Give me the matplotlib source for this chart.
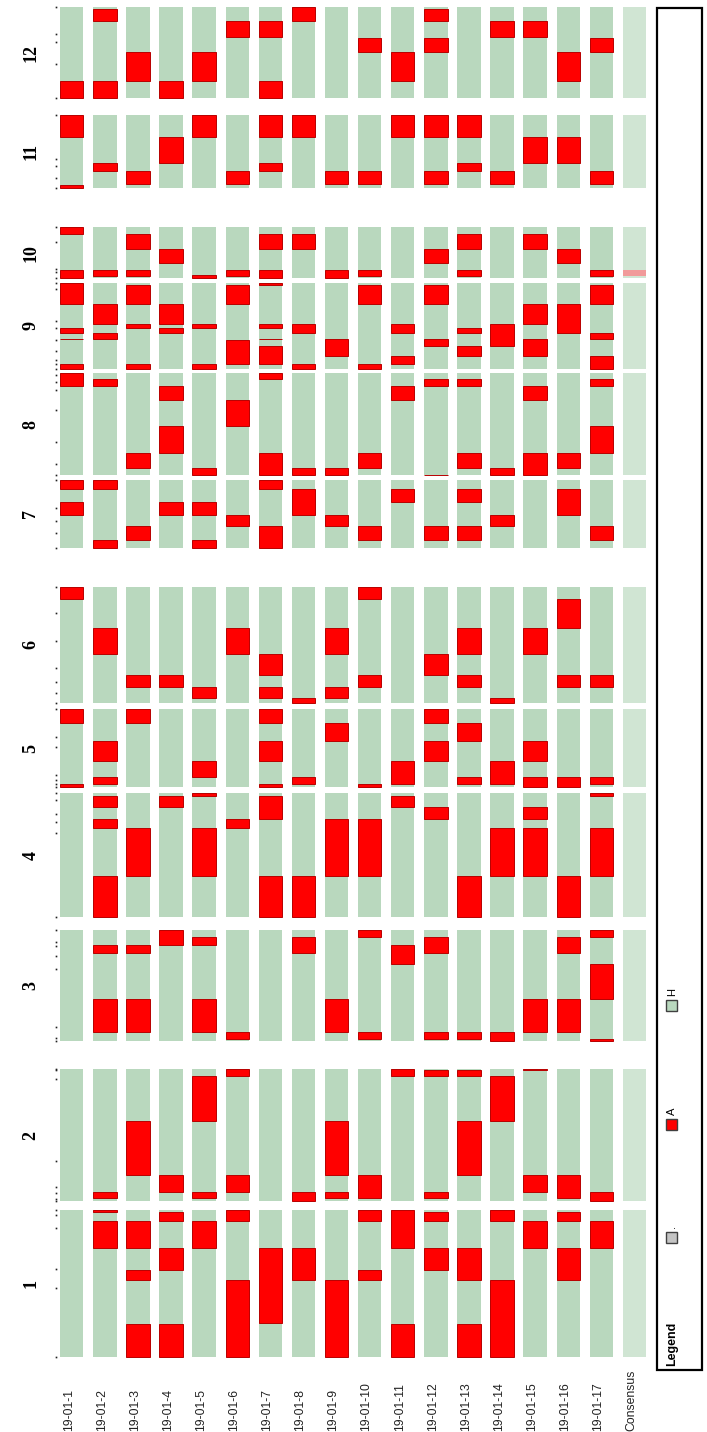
import matplotlib.pyplot as plt
from matplotlib.patches import Rectangle

samples = ['19-01-%d' % i for i in range(1, 18)] + ['Consensus']
chroms = [1, 2, 3, 4, 5, 6, 7, 8, 9, 10, 11, 12]
chrom_len = [147, 132, 111, 124, 78, 116, 68, 102, 86, 51, 73, 91]

# A (red) segments: (sample number, start, end), start measured from the chromosome start
chr1_A = [(2, 109, 135.6), (2, 144.6, 147), (3, 0, 33.3), (3, 77.3, 87.3), (3, 109, 135.6),
          (4, 0, 33.3), (4, 87.3, 109), (4, 135.6, 144.6), (5, 109, 135.6), (6, 0, 77.3),
          (6, 135.6, 147), (7, 34, 109), (8, 77.3, 109), (9, 0, 77.3), (10, 77.3, 87.3),
          (10, 135.6, 147), (11, 0, 33.3), (11, 109, 147), (12, 87.3, 109), (12, 135.6, 144.6),
          (13, 0, 33.3), (13, 77.3, 109), (14, 0, 77.3), (14, 135.6, 147), (15, 109, 135.6),
          (16, 77.3, 109), (16, 135.6, 144.6), (17, 109, 135.6)]
chr2_A = [(2, 3.3, 9.3), (3, 26, 80.3), (4, 9.3, 26), (5, 3.3, 9.3), (5, 80.3, 125.3),
          (6, 9.3, 26), (6, 125.3, 132), (8, 0, 9.3), (9, 3.3, 9.3), (9, 26, 80.3),
          (10, 3.3, 26), (11, 125.3, 132), (12, 3.3, 9.3), (12, 125.3, 131), (13, 26, 80.3),
          (13, 125.3, 131), (14, 80.3, 125.3), (15, 9.3, 26), (15, 131, 132), (16, 3.3, 26),
          (17, 0, 9.3)]
chr3_A = [(2, 9, 42.4), (2, 88.4, 96.4), (3, 9, 42.4), (3, 88.4, 96.4), (4, 96.4, 111),
          (5, 9, 42.4), (5, 96.4, 104), (6, 1.7, 9), (8, 88.4, 104), (9, 9, 42.4),
          (10, 1.7, 9), (10, 104, 111), (11, 77.4, 96.4), (12, 1.7, 9), (12, 88.4, 104),
          (13, 1.7, 9), (14, 0, 9), (15, 9, 42.4), (16, 9, 42.4), (16, 88.4, 104),
          (17, 0, 2), (17, 42.4, 77.4), (17, 104, 111)]
chr4_A = [(2, 0, 41), (2, 89.4, 98.4), (2, 110, 121), (3, 41, 89.4), (4, 110, 121),
          (5, 41, 89.4), (5, 121, 124), (6, 89.4, 98.4), (7, 0, 41), (7, 98.4, 121),
          (8, 0, 41), (9, 41, 98.4), (10, 41, 98.4), (11, 110, 121), (12, 98.4, 110),
          (13, 0, 41), (14, 41, 89.4), (15, 41, 89.4), (15, 98.4, 110), (16, 0, 41),
          (17, 41, 89.4), (17, 121, 124)]
chr5_A = [(1, 0, 3.4), (1, 64.4, 78), (2, 3.4, 10.4), (2, 26.7, 46), (3, 64.4, 78),
          (5, 10.4, 26.7), (7, 0, 3.4), (7, 26.7, 46), (7, 64.4, 78), (8, 3.4, 10.4),
          (9, 46, 64.4), (10, 0, 3.4), (11, 3.4, 26.7), (12, 26.7, 46), (12, 64.4, 78),
          (13, 3.4, 10.4), (13, 46, 64.4), (14, 3.4, 26.7), (15, 0, 10.4), (15, 26.7, 46),
          (16, 0, 10.4), (17, 3.4, 10.4)]
chr6_A = [(1, 103.4, 116), (2, 48.4, 75), (3, 15.4, 27.7), (4, 15.4, 27.7), (5, 4.4, 15.4),
          (6, 48.4, 75), (7, 4.4, 15.4), (7, 27.7, 48.4), (8, 0, 4.4), (9, 4.4, 15.4),
          (9, 48.4, 75), (10, 15.4, 27.7), (10, 103.4, 116), (12, 27.7, 48.4),
          (13, 15.4, 27.7), (13, 48.4, 75), (14, 0, 4.4), (15, 48.4, 75), (16, 15.4, 27.7),
          (16, 75, 103.4), (17, 15.4, 27.7)]
chr7_A = [(1, 33.3, 45.7), (1, 59, 68), (2, 0, 8.3), (2, 59, 68), (3, 7.7, 21.7),
          (4, 33.3, 45.7), (5, 0, 8.3), (5, 33.3, 45.7), (6, 21.7, 33.3), (7, 0, 21.7),
          (7, 59, 68), (8, 33.3, 59), (9, 21.7, 33.3), (10, 7.7, 21.7), (11, 45.7, 59),
          (12, 7.7, 21.7), (13, 7.7, 21.7), (13, 45.7, 59), (14, 21.7, 33.3), (16, 33.3, 59),
          (17, 7.7, 21.7)]
chr8_A = [(1, 89, 102), (2, 89, 96.7), (3, 7.7, 22.7), (4, 22.7, 49.3), (4, 75.7, 89),
          (5, 0, 7.7), (6, 49.3, 75.7), (7, 0, 22.7), (7, 96.7, 102), (8, 0, 7.7),
          (9, 0, 7.7), (10, 7.7, 22.7), (11, 75.7, 89), (12, 0, 0.8), (12, 89, 96.7),
          (13, 7.7, 22.7), (13, 89, 96.7), (14, 0, 7.7), (15, 0, 22.7), (15, 75.7, 89),
          (16, 7.7, 22.7), (17, 22.7, 49.3), (17, 89, 96.7)]
chr9_A = [(1, 0, 4.7), (1, 29.4, 30.2), (1, 35.7, 40.7), (1, 65, 85.7), (2, 29.7, 35.7),
          (2, 44.7, 64.7), (3, 0, 4.7), (3, 40.7, 44.7), (3, 65, 84), (4, 35.7, 40.7),
          (4, 44.7, 64.7), (5, 0, 4.7), (5, 40.7, 44.7), (6, 4.7, 29), (6, 65, 84),
          (7, 4.7, 22.3), (7, 29.4, 30.2), (7, 40.7, 44.7), (7, 84, 85.7), (8, 0, 4.7),
          (8, 35.7, 44.7), (9, 13, 29.7), (10, 0, 4.7), (10, 65, 84), (11, 4.7, 13),
          (11, 35.7, 44.7), (12, 22.3, 29.7), (12, 65, 84), (13, 13, 22.3), (13, 35.7, 40.7),
          (14, 22.3, 44.7), (15, 13, 29.7), (15, 44.7, 64.7), (16, 35.7, 64.7), (17, 0, 13),
          (17, 29.7, 35.7), (17, 65, 84)]
chr10_A = [(1, 0, 8.3), (1, 44.3, 51), (2, 2.6, 8.3), (3, 2.6, 8.3), (3, 29.3, 44.3),
           (4, 15, 29.3), (5, 0, 3.3), (6, 2.6, 8.3), (7, 0, 8.3), (7, 29.3, 44.3),
           (8, 29.3, 44.3), (9, 0, 8.3), (10, 2.6, 8.3), (12, 15, 29.3), (13, 2.6, 8.3),
           (13, 29.3, 44.3), (15, 29.3, 44.3), (16, 15, 29.3), (17, 2.6, 8.3)]
chr11_A = [(1, 0, 3.5), (1, 51, 73), (2, 16.7, 25.4), (3, 4.4, 16.7), (4, 25.4, 51),
           (5, 51, 73), (6, 4.4, 16.7), (7, 16.7, 25.4), (7, 51, 73), (8, 51, 73),
           (9, 4.4, 16.7), (10, 4.4, 16.7), (11, 51, 73), (12, 4.4, 16.7), (12, 51, 73),
           (13, 16.7, 25.4), (13, 51, 73), (14, 4.4, 16.7), (15, 25.4, 51), (16, 25.4, 51),
           (17, 4.4, 16.7)]
chr12_A = [(1, 0, 17), (2, 0, 17), (2, 77, 89), (3, 17, 46), (4, 0, 17), (5, 17, 46),
           (6, 61, 77), (7, 0, 17), (7, 61, 77), (8, 77, 91), (10, 46, 60), (11, 17, 46),
           (12, 46, 60), (12, 77, 89), (14, 61, 77), (15, 61, 77), (16, 17, 46), (17, 46, 60)]
segments_A = [chr1_A, chr2_A, chr3_A, chr4_A, chr5_A, chr6_A,
              chr7_A, chr8_A, chr9_A, chr10_A, chr11_A, chr12_A]

# marker positions shown as small ticks left of each chromosome
markers = [[0, 69, 88, 129, 141.6, 147], [0, 2, 7.7, 13.7, 40, 122, 131, 132],
           [0, 3, 14, 72.4, 84.7, 95, 99, 111], [0, 84.4, 95.4, 103.7, 117, 124.4],
           [0, 3.4, 7, 12.7, 40, 50, 78.4], [0, 9.4, 20.4, 35, 61.7, 89.4, 116],
           [0, 15, 26.6, 40, 68], [0, 11, 33.3, 65.7, 85, 93.3, 100],
           [0, 4.7, 9, 17.3, 29, 40.7, 48, 80, 85.7], [0, 6, 9.3, 36.6, 51],
           [0, 10, 22, 29.4, 72.7], [0, 34, 56.6, 64, 91]]

# consensus mixed region (chromosome, start, end)
consensus_mixed = [(10, 2.6, 8.3)]

legend_labels = ['.', 'A', 'H']

# layout (pixels of the 707x1432 canvas)
col_left = 60.0
col_pitch = 33.1
col_width = 23.4
first_top = 7.3
gap_above = {11: 16.7, 10: 39.3, 9: 4.4, 8: 4.6, 7: 4.7, 6: 38.7,
             5: 6.6, 4: 6.0, 3: 12.7, 2: 28.0, 1: 9.0}

green = '#b9d8be'
green_cons = '#d0e5d3'
red = '#ff0000'
red_edge = '#b80000'

fig = plt.figure(figsize=(7.07, 14.32), dpi=100)
ax = fig.add_axes([0, 0, 1, 1])
ax.set_xlim(0, 707)
ax.set_ylim(1432, 0)
ax.axis('off')

# vertical placement of chromosomes, 12 on top
tops = {}
cursor = first_top
for c in reversed(chroms):
    if c in gap_above:
        cursor += gap_above[c]
    tops[c] = cursor
    cursor += chrom_len[c - 1]

for c in chroms:
    L = chrom_len[c - 1]
    top = tops[c]
    bottom = top + L
    for i in range(len(samples)):
        x = col_left + i * col_pitch
        col = green_cons if samples[i] == 'Consensus' else green
        ax.bar(x, L, bottom=top, width=col_width, align='edge', color=col, linewidth=0)
    for s, a, b in segments_A[c - 1]:
        x = col_left + (s - 1) * col_pitch
        ax.bar(x, b - a, bottom=bottom - b, width=col_width, align='edge',
               color=red, edgecolor=red_edge, linewidth=0.7)
    for cc, a, b in consensus_mixed:
        if cc == c:
            x = col_left + (len(samples) - 1) * col_pitch
            ax.bar(x, b - a, bottom=bottom - b, width=col_width, align='edge',
                   color='#f19a9a', linewidth=0)
    m = markers[c - 1]
    ax.plot([col_left - 4] * len(m), [bottom - p for p in m], 's', color='#202020',
            markersize=1.2, markeredgewidth=0)
    ax.text(31, top + L / 2, str(c), rotation=90, ha='center', va='center',
            fontsize=13, fontweight='bold', family='Liberation Serif')

for i, name in enumerate(samples):
    x = col_left + i * col_pitch + col_width / 2 - 3
    ax.text(x, 1431, name, rotation=90, ha='center', va='bottom',
            fontsize=8.8, family='Liberation Sans', color='#222222')

# legend box
ax.add_patch(Rectangle((657, 8), 45, 1362, fill=False, edgecolor='black', linewidth=1.6))
ax.text(672, 1366, 'Legend', rotation=90, ha='center', va='bottom',
        fontsize=9, fontweight='bold', family='Liberation Sans')
leg_colors = ['#c4c4c4', red, green]
leg_y = [1243, 1130, 1011]
for lab, fc, y in zip(legend_labels, leg_colors, leg_y):
    ax.add_patch(Rectangle((666, y - 11), 11, 11, facecolor=fc, edgecolor='#404040', linewidth=1.0))
    ax.text(672, y - 15, lab, rotation=90, ha='center', va='bottom',
            fontsize=8, family='Liberation Sans')

fig.savefig('out.png', dpi=100)
